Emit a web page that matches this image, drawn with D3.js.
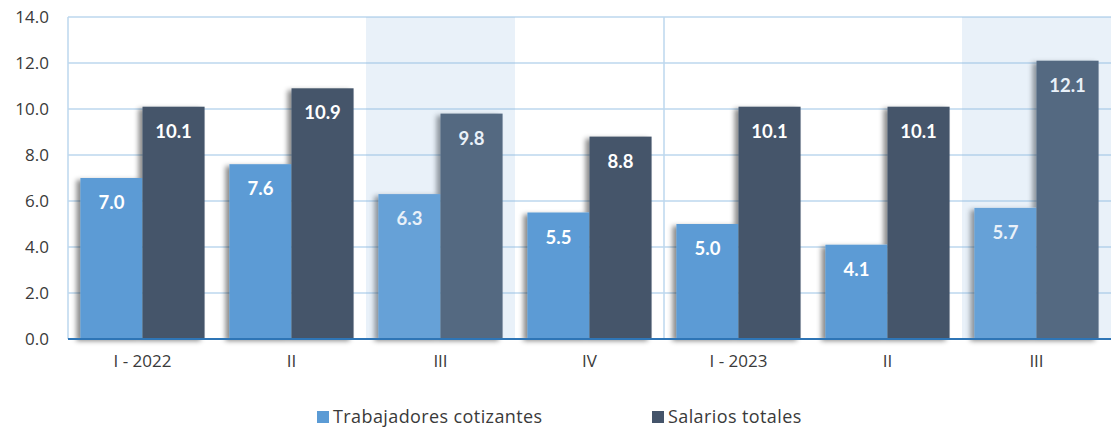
<!DOCTYPE html>
<html>
<head>
<meta charset="utf-8">
<script src="https://cdn.jsdelivr.net/npm/d3@7"></script>
<style>
  body { margin: 0; background: #fff; }
  svg { display: block; font-family: "Open Sans", "Lato", sans-serif; }
</style>
</head>
<body>
<svg id="chart" width="1111" height="427"></svg>
<script>
// data
const categories = ["I - 2022", "II", "III", "IV", "I - 2023", "II", "III"];
const seriesNames = ["Trabajadores cotizantes", "Salarios totales"];
const trabajadores = [7.0, 7.6, 6.3, 5.5, 5.0, 4.1, 5.7];
const salarios = [10.1, 10.9, 9.8, 8.8, 10.1, 10.1, 12.1];
const yTicks = [0, 2, 4, 6, 8, 10, 12, 14];
const shaded = [2, 6]; // highlighted quarters
const colors = ["#5b9bd5", "#44546a"];

const rows = categories.map((c, i) => ({ key: i, cat: c, values: [trabajadores[i], salarios[i]] }));

const svg = d3.select("#chart");
const margin = { top: 17, right: 0, bottom: 88, left: 68 };
const width = 1111 - margin.left - margin.right;
const height = 427 - margin.top - margin.bottom;

// drop shadow like the office chart
const defs = svg.append("defs");
const f = defs.append("filter").attr("id", "shadow")
  .attr("x", "-20%").attr("y", "-5%").attr("width", "140%").attr("height", "115%");
f.append("feDropShadow").attr("dx", -4).attr("dy", 2).attr("stdDeviation", 2.5)
  .attr("flood-color", "#000").attr("flood-opacity", 0.45);

const g = svg.append("g").attr("transform", `translate(${margin.left},${margin.top})`);

const x0 = d3.scaleBand().domain(d3.range(categories.length)).range([0, width]).padding(0);
const x1 = d3.scaleBand().domain([0, 1]).range([0, x0.bandwidth()]).paddingInner(0).paddingOuter(0.2);
const y = d3.scaleLinear().domain([0, 14]).range([height, 0]);

// gridlines
g.append("g").selectAll("line").data(yTicks.slice(1)).enter().append("line")
  .attr("x1", 0).attr("x2", width)
  .attr("y1", d => y(d)).attr("y2", d => y(d))
  .attr("stroke", "#bdd7ee").attr("stroke-width", 1.5);

// left axis line and year divider
g.append("line").attr("x1", 0).attr("x2", 0).attr("y1", 0).attr("y2", height)
  .attr("stroke", "#bdd7ee").attr("stroke-width", 1.5);
g.append("line").attr("x1", x0(4)).attr("x2", x0(4)).attr("y1", 0).attr("y2", height)
  .attr("stroke", "#bdd7ee").attr("stroke-width", 1.5);

// bars
const groups = g.append("g").selectAll("g").data(rows).enter().append("g")
  .attr("transform", d => `translate(${x0(d.key)},0)`)
  .attr("filter", "url(#shadow)");

groups.selectAll("rect").data(d => d.values).enter().append("rect")
  .attr("x", (d, i) => x1(i))
  .attr("y", d => y(d))
  .attr("width", x1.bandwidth())
  .attr("height", d => height - y(d))
  .attr("fill", (d, i) => colors[i]);

// value labels
const labels = g.append("g").selectAll("g").data(rows).enter().append("g")
  .attr("transform", d => `translate(${x0(d.key)},0)`);
labels.selectAll("text").data(d => d.values).enter().append("text")
  .attr("x", (d, i) => x1(i) + x1.bandwidth() / 2)
  .attr("y", d => y(d) + 31)
  .attr("text-anchor", "middle")
  .attr("fill", "#fff")
  .attr("font-family", "Lato, sans-serif")
  .attr("font-weight", "bold")
  .attr("font-size", 18.5)
  .text(d => d.toFixed(1));

// highlight bands on top
g.append("g").selectAll("rect").data(shaded).enter().append("rect")
  .attr("x", d => x0(d)).attr("y", 0)
  .attr("width", x0.bandwidth()).attr("height", height)
  .attr("fill", "rgb(145,185,225)").attr("fill-opacity", 0.2);

// baseline
g.append("line").attr("x1", 0).attr("x2", width).attr("y1", height).attr("y2", height)
  .attr("stroke", "#2e75b6").attr("stroke-width", 2);

// y axis
const yAxis = g.append("g").call(d3.axisLeft(y).tickValues(yTicks).tickFormat(d3.format(".1f")).tickSize(0).tickPadding(19));
yAxis.select(".domain").remove();
yAxis.selectAll("text").attr("font-size", 17).attr("fill", "#3a3a3a")
  .attr("font-family", "Open Sans, sans-serif");

// x axis
const xAxis = g.append("g").attr("transform", `translate(0,${height})`)
  .call(d3.axisBottom(x0).tickFormat(i => categories[i]).tickSize(0).tickPadding(16));
xAxis.select(".domain").remove();
xAxis.selectAll("text").attr("font-size", 17).attr("fill", "#3a3a3a")
  .attr("font-family", "Open Sans, sans-serif");

// legend
const legendX = [317, 652];
const legend = svg.append("g").selectAll("g").data(seriesNames).enter().append("g")
  .attr("transform", (d, i) => `translate(${legendX[i]},417)`);
legend.append("rect").attr("x", 0).attr("y", -6).attr("width", 12).attr("height", 12)
  .attr("fill", (d, i) => colors[i]);
legend.append("text").attr("x", 16).attr("y", 0).attr("dy", "0.35em")
  .attr("font-size", 18).attr("letter-spacing", 0.4).attr("fill", "#3a3a3a").text(d => d);
</script>
</body>
</html>
